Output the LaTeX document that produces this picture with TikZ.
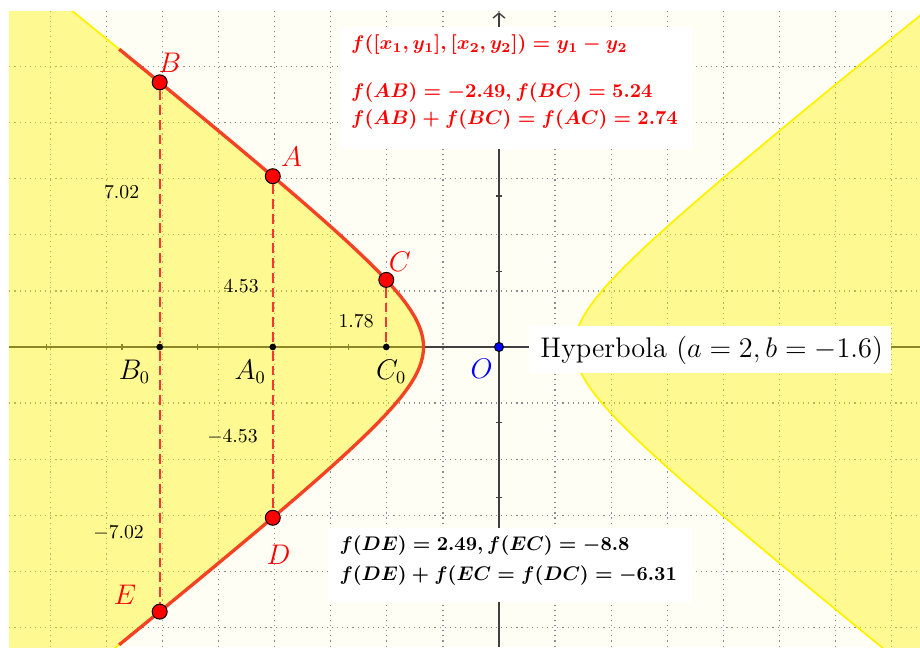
\documentclass[tikz,border=0pt]{standalone}
\usepackage{amsmath,amssymb,bm}
\usepackage{tikz}
\usetikzlibrary{arrows.meta,positioning}
\definecolor{hypred}{RGB}{244,67,36}
\definecolor{ptred}{RGB}{255,0,0}
\definecolor{axgray}{RGB}{64,64,64}
\definecolor{inyellow}{RGB}{255,254,244}

\begin{document}
\begin{tikzpicture}[x=.6726cm,y=.6726cm,>={Straight Barb[length=2.5pt,width=6pt]},
  gridline/.style={black!45,dotted,line width=.6pt},
  axisline/.style={axgray,line width=.7pt},
  ptdot/.style={circle,fill=ptred,draw=black,line width=.5pt,inner sep=0pt,minimum size=7.6pt},
  footdot/.style={circle,fill=black,inner sep=0pt,minimum size=3.4pt},
  dropline/.style={ptred!80!white,dash pattern=on 5pt off 2.5pt,line width=.9pt},
  ptlab/.style={text=ptred,font=\fontsize{14}{16}\selectfont},
  footlab/.style={font=\fontsize{13.5}{16}\selectfont},
  infotext/.style={anchor=west,inner sep=0pt,font=\fontsize{10.4}{12.5}\selectfont\boldmath}]
\useasboundingbox (-13.236,-7.958) rectangle (11.167,9.204);
\fill[white] (-13.236,-7.958) rectangle (11.167,9.204);
\fill[inyellow] (-13,-7.958) rectangle (11.167,8.91);
\draw[gridline] (-12.99,-7.95) grid (11.16,8.9);
\draw[axisline] (-13,0) -- (11.167,0);
\draw[axisline,->] (0,-7.958) -- (0,8.88);
\foreach \t in {-12,-10,...,10}{\draw[axisline] (\t,-.08)--(\t,.08);}
\foreach \t in {-6,-4,...,8}{\draw[axisline] (-.08,\t)--(.08,\t);}
% region outside the hyperbola
\begin{scope}
\clip (-13,-7.958) rectangle (11.167,8.91);
\fill[yellow,opacity=.4] plot[domain=-8:9,samples=90,variable=\y] ({-2*sqrt(1+(\y/1.6)^2)},\y) -- (-14,9) -- (-14,-8) -- cycle;
\fill[yellow,opacity=.4] plot[domain=-8:9,samples=90,variable=\y] ({2*sqrt(1+(\y/1.6)^2)},\y) -- (12,9) -- (12,-8) -- cycle;
\draw[yellow,line width=.9pt] plot[domain=-8:9,samples=90,variable=\y] ({-2*sqrt(1+(\y/1.6)^2)},\y);
\draw[yellow,line width=.9pt] plot[domain=-8:9,samples=90,variable=\y] ({2*sqrt(1+(\y/1.6)^2)},\y);
\end{scope}
\draw[hypred,line width=1.7pt] plot[domain=-7.9:7.9,samples=90,variable=\y] ({-2*sqrt(1+(\y/1.6)^2)},\y);
% points on the branch and their feet
\node[ptdot] (ptB) at (-9,7.02) {};
\node[ptdot] (ptA) at (-6,4.53) {};
\node[ptdot] (ptC) at (-2.99,1.78) {};
\node[ptdot] (ptD) at (-6,-4.53) {};
\node[ptdot] (ptE) at (-9,-7.02) {};
\node[footdot] (footB) at (-9,0) {};
\node[footdot] (footA) at (-6,0) {};
\node[footdot] (footC) at (-2.99,0) {};
\node[circle,fill=blue,draw=black,line width=.5pt,inner sep=0pt,minimum size=4.6pt] (orig) at (0,0) {};
\draw[dropline] (ptB) -- (footB); \draw[dropline] (footB) -- (ptE);
\draw[dropline] (ptA) -- (footA); \draw[dropline] (footA) -- (ptD);
\draw[dropline] (ptC) -- (footC);
\node[ptlab] (labB) at (-8.73,7.53) {$B$};
\node[ptlab] (labA) at (-5.50,5.05) {$A$};
\node[ptlab] (labC) at (-2.63,2.26) {$C$};
\node[ptlab] (labD) at (-5.85,-5.52) {$D$};
\node[ptlab] (labE) at (-9.92,-6.58) {$E$};
\node[footlab] (labB0) at (-9.67,-.65) {$B_0$};
\node[footlab] (labA0) at (-6.6,-.65) {$A_0$};
\node[footlab] (labC0) at (-2.86,-.66) {$C_0$};
\node[font=\Large,text=blue] (labO) at (-.46,-.57) {$O$};
\node (valB) at (-10.01,4.11) {$7.02$};
\node (valA) at (-6.84,1.62) {$4.53$};
\node (valC) at (-3.79,.69) {$1.78$};
\node (valD) at (-7.07,-2.38) {$-4.53$};
\node (valE) at (-10.09,-4.93) {$-7.02$};
% text boxes
\fill[white] (-4.19,5.25) rectangle (5.12,8.49);
\fill[white] (-4.54,-6.76) rectangle (5.12,-4.80);
\fill[white] (.8,-.69) rectangle (10.4,.56);
\node[infotext,text=ptred] (fdef) at (-3.93,8.01) {$f([x_1,y_1],[x_2,y_2])=y_1-y_2$};
\node[infotext,text=ptred] (fsum1) at (-3.93,6.76) {$f(AB)=-2.49, f(BC)=5.24$};
\node[infotext,text=ptred] (fsum2) at (-3.93,6.02) {$f(AB)+f(BC)=f(AC)=2.74$};
\node[infotext] (gsum1) at (-4.24,-5.28) {$f(DE)=2.49, f(EC)=-8.8$};
\node[infotext] (gsum2) at (-4.24,-6.05) {$f(DE)+f(EC=f(DC)=-6.31$};
\node[anchor=west,inner sep=0pt,font=\Large] (hyplab) at (1.09,-.08) {Hyperbola $(a=2,b=-1.6)$};
\end{tikzpicture}
\end{document}
